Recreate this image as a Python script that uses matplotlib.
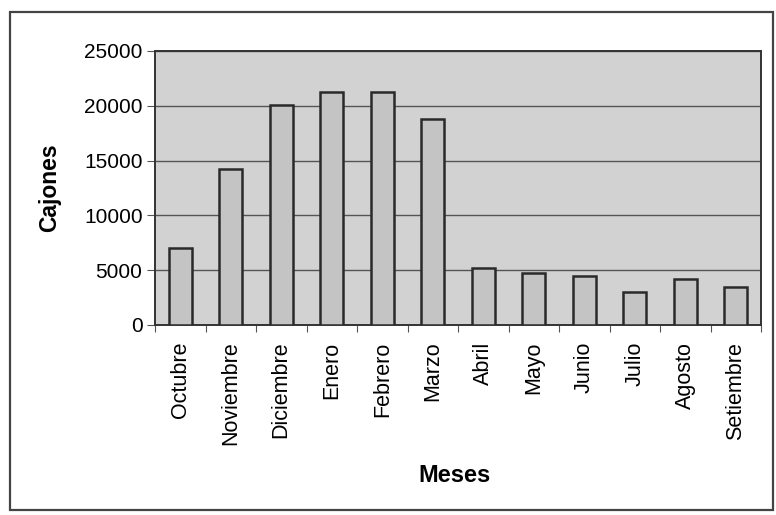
import matplotlib
matplotlib.use("Agg")
import matplotlib.pyplot as plt
from matplotlib.patches import Rectangle
import numpy as np

plt.rcParams['font.family'] = ['Liberation Sans', 'DejaVu Sans']

meses = ["Octubre", "Noviembre", "Diciembre", "Enero", "Febrero", "Marzo",
         "Abril", "Mayo", "Junio", "Julio", "Agosto", "Setiembre"]
cajones = [7000, 14200, 20100, 21300, 21300, 18800,
           5200, 4700, 4500, 3000, 4200, 3500]
y_ticks = [0, 5000, 10000, 15000, 20000, 25000]

W, H = 776, 515
fig = plt.figure(figsize=(W / 100, H / 100), dpi=100)
fig.patch.set_facecolor("white")

# outer chart frame
fig.patches.append(Rectangle((10 / W, 1 - 510 / H), 763 / W, 498 / H,
                             transform=fig.transFigure, fill=False,
                             edgecolor="#444444", linewidth=1.6))

ax = fig.add_axes([155 / W, 1 - 325 / H, 606 / W, 274 / H])
ax.set_facecolor("#d2d2d2")

x = np.arange(len(meses))
ax.bar(x, cajones, width=0.46, color="#c4c4c4", edgecolor="#2a2a2a",
       linewidth=1.8, zorder=3)

ax.set_xlim(-0.5, len(meses) - 0.5)
ax.set_ylim(0, 25000)
ax.set_yticks(y_ticks)
ax.set_yticklabels([str(v) for v in y_ticks], fontsize=15)
ax.yaxis.grid(True, color="#555555", linewidth=1.0, zorder=1)
ax.set_axisbelow(True)

# category boundaries carry the tick marks, labels sit at the centres
ax.set_xticks(np.arange(-0.5, len(meses), 1.0))
ax.set_xticklabels([])
ax.set_xticks(x, minor=True)
ax.set_xticklabels(meses, minor=True, rotation=90, fontsize=15.5)
ax.tick_params(axis="x", which="minor", length=0, pad=12)
ax.tick_params(axis="x", which="major", length=5, color="#555555")
ax.tick_params(axis="y", length=6, color="#555555", pad=3)

for s in ax.spines.values():
    s.set_color("#333333")
    s.set_linewidth(1.4)

fig.text(50 / W, 1 - 188 / H, "Cajones", fontsize=16.5, fontweight="bold",
         rotation=90, ha="center", va="center")
fig.text(454 / W, 1 - 475 / H, "Meses", fontsize=17, fontweight="bold",
         ha="center", va="center")

fig.savefig("out.png", dpi=100)
